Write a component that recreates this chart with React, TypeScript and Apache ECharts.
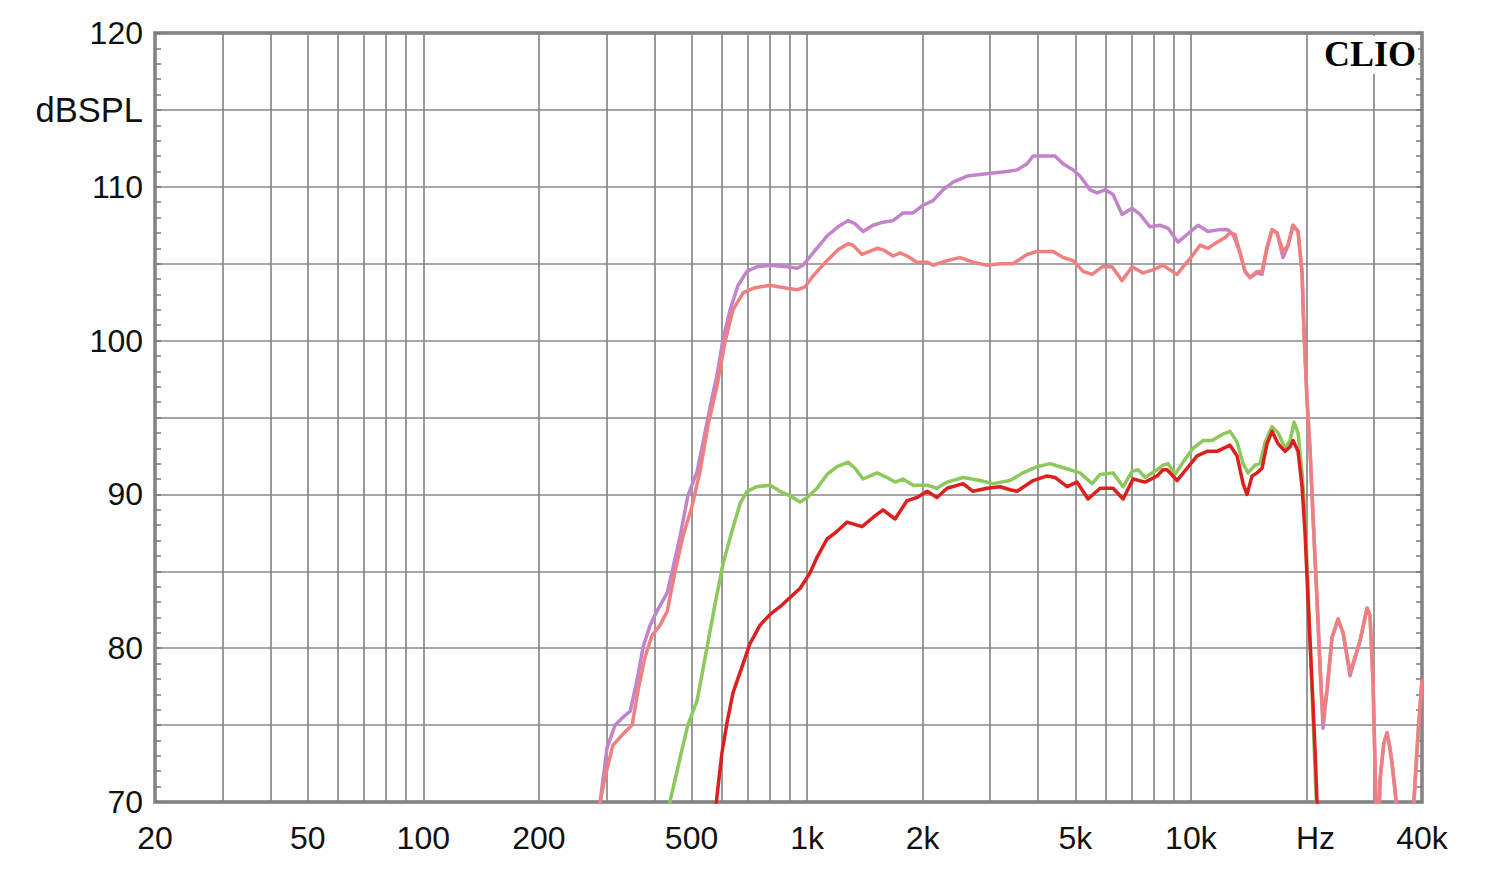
import React, { useEffect, useRef } from "react";
import * as echarts from "echarts";

// Frequency grid (Hz)
const FREQ_GRID = [
  20, 30, 40, 50, 60, 70, 80, 90, 100, 200, 300, 400, 500, 600, 700, 800, 900,
  1000, 2000, 3000, 4000, 5000, 6000, 7000, 8000, 9000, 10000, 20000, 30000, 40000,
];
const FREQ_LABELS = [20, 50, 100, 200, 500, 1000, 2000, 5000, 10000, 20000, 40000];
const FREQ_LABEL_TEXT = ["20", "50", "100", "200", "500", "1k", "2k", "5k", "10k", "Hz", "40k"];

const Y_MIN = 70;
const Y_MAX = 120;
const Y_UNIT = "dBSPL";

const TAIL: [number, number][] = [
  [29828, 77.7], [30368, 69.5], [30738, 67.5], [31108, 71.5], [31800, 73.8],
  [32440, 74.5], [33000, 73.5], [33426, 72.5], [34448, 69.5], [35000, 67],
  [36138, 66], [37500, 68], [38200, 70.5], [39072, 74.5], [40000, 77.9],
];

const PURPLE: [number, number][] = [
  [280, 68.5], [289, 70], [301, 73.5], [316, 75.0], [331, 75.5], [346, 75.9], [361, 78.0],
  [374, 80.1], [390, 81.5], [406, 82.4], [432, 83.6], [447, 85.2], [467, 87.3], [489, 89.9],
  [517, 91.5], [536, 93.4], [559, 95.7], [583, 97.8], [604, 100.1], [630, 102.0], [661, 103.6],
  [697, 104.5], [740, 104.8], [801, 104.9], [887, 104.8], [941, 104.7], [976, 104.9],
  [1036, 105.7], [1127, 106.8], [1204, 107.4], [1278, 107.8], [1333, 107.6], [1399, 107.1],
  [1485, 107.5], [1577, 107.7], [1675, 107.8], [1778, 108.3], [1888, 108.3], [2005, 108.8],
  [2128, 109.1], [2260, 109.8], [2400, 110.3], [2612, 110.7], [2822, 110.8], [3052, 110.9],
  [3320, 111.0], [3524, 111.1], [3742, 111.5], [3880, 112.0], [4220, 112.0], [4426, 112.0],
  [4644, 111.5], [4932, 111.1], [5142, 110.7], [5462, 109.8], [5696, 109.6], [5976, 109.8],
  [6270, 109.5], [6616, 108.2], [7026, 108.6], [7372, 108.2], [7826, 107.4], [8310, 107.5],
  [8720, 107.3], [9258, 106.4], [9770, 106.9], [10438, 107.5], [11082, 107.1], [11770, 107.2],
  [12496, 107.2], [12878, 106.9], [13428, 105.7], [13836, 104.5], [14256, 104.1], [14870, 104.4],
  [15322, 104.3], [15790, 106.0], [16272, 107.2], [16766, 107.0], [17380, 105.4], [17908, 106.2],
  [18454, 107.5], [19016, 107.1], [19478, 104.4], [19712, 100.5], [20072, 96.1], [20436, 92.9],
  [20808, 88.5], [21312, 83.1], [21698, 78.8], [22092, 74.8], [22630, 77.3], [23318, 80.7],
  [24172, 81.9], [24910, 81.0], [25980, 78.2], [27590, 80.5], [28772, 82.6], [29296, 82.1],
  ...TAIL,
];

const SALMON: [number, number][] = [
  [280, 68.5], [289, 70], [298, 71.7], [312, 73.7], [331, 74.4], [350, 75.0], [363, 77.3],
  [378, 79.4], [394, 80.8], [414, 81.5], [432, 82.4], [453, 85.0], [475, 87.3], [501, 89.2],
  [526, 91.5], [552, 94.5], [583, 97.1], [611, 99.9], [641, 102.0], [681, 103.1], [723, 103.4],
  [801, 103.6], [887, 103.4], [941, 103.3], [988, 103.5], [1036, 104.2], [1127, 105.2],
  [1204, 105.9], [1278, 106.3], [1317, 106.2], [1390, 105.6], [1521, 106.0], [1577, 105.9],
  [1675, 105.5], [1747, 105.7], [1822, 105.5], [1934, 105.1], [2054, 105.1], [2128, 104.9],
  [2316, 105.2], [2504, 105.4], [2706, 105.1], [2944, 104.9], [3182, 105.0], [3440, 105.0],
  [3742, 105.6], [3974, 105.8], [4374, 105.8], [4644, 105.4], [4932, 105.2], [5236, 104.5],
  [5528, 104.3], [5870, 104.8], [6232, 104.8], [6616, 103.9], [7026, 104.8], [7506, 104.4],
  [7968, 104.6], [8460, 104.9], [8826, 104.6], [9204, 104.3], [9538, 104.8], [10068, 105.5],
  [10564, 106.2], [11082, 106.0], [11700, 106.4], [12272, 106.7], [12646, 107.0], [13032, 106.9],
  [13428, 105.7], [13836, 104.5], [14256, 104.1], [14870, 104.5], [15322, 104.5], [15790, 106.1],
  [16272, 107.2], [16766, 107.0], [17380, 105.8], [17908, 106.2], [18454, 107.5], [19016, 107.1],
  [19478, 104.4], [19712, 100.5], [20072, 96.1], [20436, 92.9], [20808, 88.5], [21312, 83.1],
  [21698, 78.8], [22092, 75.3], [22630, 77.3], [23318, 80.7], [24172, 81.9], [24910, 81.0],
  [25980, 78.4], [27590, 80.5], [28772, 82.6], [29296, 82.1],
  ...TAIL,
];

const GREEN: [number, number][] = [
  [430, 68], [439, 70], [467, 72.9], [489, 75.0], [517, 76.6], [549, 80.1], [576, 82.9],
  [604, 85.5], [637, 87.6], [669, 89.4], [697, 90.2], [740, 90.5], [801, 90.6], [850, 90.2],
  [903, 89.9], [959, 89.5], [1000, 89.8], [1061, 90.4], [1127, 91.3], [1197, 91.8], [1278, 92.1],
  [1333, 91.7], [1399, 91.0], [1521, 91.4], [1615, 91.1], [1695, 90.8], [1778, 91.0],
  [1888, 90.6], [2054, 90.6], [2180, 90.4], [2316, 90.8], [2550, 91.1], [2822, 90.9],
  [3052, 90.7], [3380, 90.9], [3652, 91.4], [3974, 91.8], [4296, 92.0], [4560, 91.8],
  [4844, 91.6], [5142, 91.4], [5528, 90.7], [5800, 91.3], [6270, 91.4], [6658, 90.5],
  [7026, 91.5], [7284, 91.6], [7596, 91.1], [8162, 91.6], [8460, 91.9], [8720, 92.0],
  [9094, 91.3], [9538, 92.1], [10128, 93.0], [10756, 93.5], [11350, 93.5], [12054, 93.9],
  [12646, 94.1], [13190, 93.4], [13672, 92.0], [14086, 91.4], [14692, 91.9], [15140, 92.0],
  [15600, 93.4], [16272, 94.4], [16868, 94.0], [17590, 93.0], [18126, 93.5], [18566, 94.7],
  [19016, 94.0], [19478, 91.4], [19712, 89.6], [20072, 85.5], [20436, 80.5], [20808, 75.5],
  [21100, 71.5], [21400, 68],
];

const RED: [number, number][] = [
  [570, 68], [580, 70], [600, 73.2], [619, 75.2], [641, 77.1], [677, 78.8], [710, 80.3],
  [754, 81.5], [801, 82.2], [850, 82.7], [903, 83.3], [959, 83.9], [1018, 84.9], [1061, 85.9],
  [1127, 87.1], [1197, 87.6], [1271, 88.2], [1390, 87.9], [1485, 88.5], [1577, 89.0],
  [1695, 88.4], [1822, 89.6], [1934, 89.8], [2054, 90.2], [2180, 89.8], [2316, 90.4],
  [2550, 90.7], [2706, 90.2], [2944, 90.4], [3182, 90.5], [3380, 90.3], [3524, 90.2],
  [3880, 90.9], [4220, 91.2], [4426, 91.1], [4756, 90.5], [5052, 90.8], [5396, 89.7],
  [5800, 90.4], [6270, 90.4], [6658, 89.7], [7068, 91.0], [7596, 90.8], [8162, 91.2],
  [8460, 91.6], [8668, 91.6], [9204, 90.9], [9770, 91.7], [10376, 92.5], [11016, 92.8],
  [11700, 92.8], [12646, 93.2], [13190, 92.5], [13672, 90.7], [14002, 90.0], [14430, 91.2],
  [14870, 91.4], [15322, 91.7], [15790, 93.3], [16272, 94.1], [16868, 93.3], [17590, 92.8],
  [18126, 93.1], [18454, 93.5], [19016, 92.8], [19478, 90.5], [19830, 87.5], [20194, 83.1],
  [20684, 77.7], [21058, 73.4], [21312, 70], [21500, 68],
];

const COLORS = { purple: "#c383cb", salmon: "#f0807f", green: "#8dc85c", red: "#dd1f1f" };

export default function App() {
  const ref = useRef<HTMLDivElement>(null);

  useEffect(() => {
    if (!ref.current) return;
    const chart = echarts.init(ref.current, null, { renderer: "svg" });
    const font = "'Liberation Sans', Arial, sans-serif";
    const gridColor = "#888888";
    const frameColor = "#7a7a7a";

    const line = (name: string, data: [number, number][], color: string) => ({
      name,
      type: "line",
      data,
      showSymbol: false,
      symbol: "none",
      clip: true,
      lineStyle: { color, width: 3.5, join: "round", cap: "round" },
      itemStyle: { color },
    });

    const yAxisCommon = {
      type: "value",
      min: Y_MIN,
      max: Y_MAX,
      interval: 5,
      axisLine: { show: false },
      axisTick: { show: true, inside: true, length: 6, lineStyle: { color: frameColor, width: 1.5 } },
      minorTick: { show: true, splitNumber: 5, length: 6, lineStyle: { color: frameColor, width: 1.5 } },
    };

    chart.setOption({
      animation: false,
      backgroundColor: "#ffffff",
      grid: {
        left: 155,
        right: 78,
        top: 33,
        bottom: 68,
        show: true,
        borderColor: frameColor,
        borderWidth: 3.5,
        backgroundColor: "transparent",
      },
      xAxis: {
        type: "log",
        logBase: 10,
        min: 20,
        max: 40000,
        axisLine: { show: false },
        axisTick: { show: false, customValues: FREQ_GRID },
        splitLine: { show: true, lineStyle: { color: gridColor, width: 1.7 } },
        axisLabel: {
          customValues: FREQ_LABELS,
          margin: 20,
          fontFamily: font,
          fontSize: 32,
          color: "#111",
          formatter: (v: number) => {
            const i = FREQ_LABELS.indexOf(Math.round(v));
            const t = i >= 0 ? FREQ_LABEL_TEXT[i] : "";
            return t === "Hz" ? "{hz|Hz}" : t;
          },
          rich: {
            hz: { fontFamily: font, fontSize: 32, color: "#111", padding: [0, 0, 0, 18] },
          },
        },
      },
      yAxis: [
        {
          ...yAxisCommon,
          position: "left",
          splitLine: { show: true, lineStyle: { color: gridColor, width: 1.7 } },
          axisLabel: {
            margin: 12,
            fontFamily: font,
            fontSize: 32,
            color: "#111",
            formatter: (v: number) => (v === 115 ? "{u|" + Y_UNIT + "}" : v % 10 === 0 ? String(v) : ""),
            rich: {
              u: { fontFamily: font, fontSize: 34.5, color: "#111" },
            },
          },
        },
        {
          ...yAxisCommon,
          position: "right",
          splitLine: { show: false },
          axisLabel: { show: false },
        },
      ],
      graphic: [
        {
          type: "text",
          right: 82,
          top: 36,
          z: 100,
          style: {
            text: "CLIO",
            font: "bold 36px 'Liberation Serif', 'DejaVu Serif', serif",
            fill: "#000",
            backgroundColor: "#fff",
            padding: [0, 2, 2, 2],
          },
        },
      ],
      series: [
        line("purple", PURPLE, COLORS.purple),
        line("salmon", SALMON, COLORS.salmon),
        line("green", GREEN, COLORS.green),
        line("red", RED, COLORS.red),
      ],
    });

    return () => chart.dispose();
  }, []);

  return (
    <div
      ref={ref}
      style={{ position: "absolute", left: 0, top: 0, width: 1500, height: 870, background: "#fff" }}
    />
  );
}
